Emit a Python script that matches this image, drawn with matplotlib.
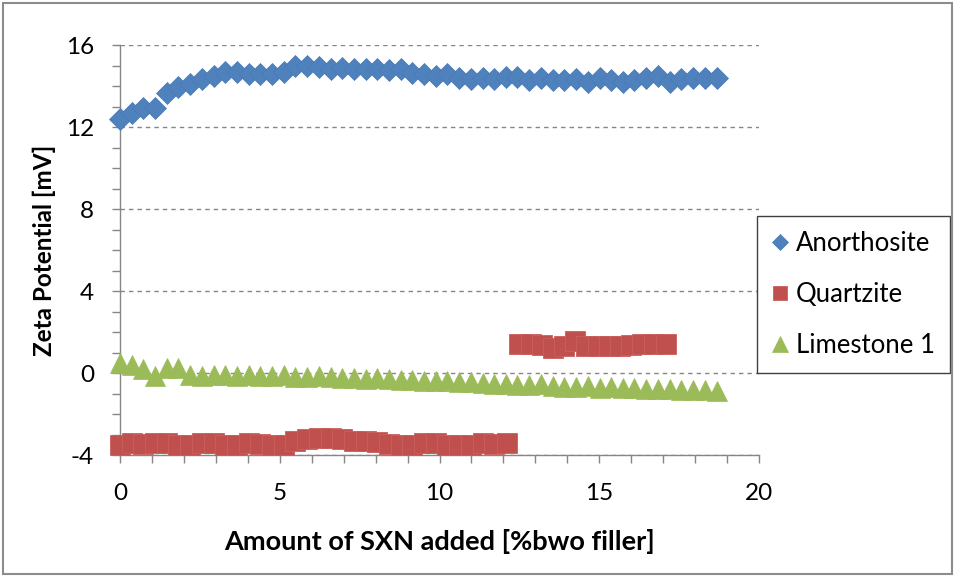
import matplotlib.pyplot as plt
from matplotlib.patches import Rectangle
from matplotlib.ticker import MultipleLocator

# SXN dose steps [%bwo filler]
sxn_added = [0, 0.37, 0.73, 1.1, 1.46, 1.83, 2.2, 2.56, 2.93, 3.29,
             3.66, 4.03, 4.39, 4.76, 5.12, 5.49, 5.86, 6.22, 6.59, 6.95,
             7.32, 7.69, 8.05, 8.42, 8.78, 9.15, 9.52, 9.88, 10.25, 10.61,
             10.98, 11.35, 11.71, 12.08, 12.44, 12.81, 13.18, 13.54, 13.91, 14.27,
             14.64, 15.01, 15.37, 15.74, 16.1, 16.47, 16.84, 17.2, 17.57, 17.93,
             18.3, 18.67]

anorthosite = [12.4, 12.7, 12.95, 12.95, 13.65, 13.95, 14.1, 14.35, 14.5, 14.7,
               14.7, 14.6, 14.6, 14.6, 14.7, 15.0, 15.0, 14.95, 14.85, 14.9,
               14.85, 14.85, 14.85, 14.8, 14.85, 14.65, 14.6, 14.5, 14.6, 14.4,
               14.35, 14.4, 14.35, 14.45, 14.45, 14.3, 14.4, 14.3, 14.3, 14.35,
               14.2, 14.4, 14.3, 14.2, 14.3, 14.4, 14.5, 14.2, 14.35, 14.4,
               14.4, 14.4]

quartzite_x = [0, 0.37, 0.73, 1.1, 1.46, 1.83, 2.2, 2.56, 2.93, 3.29,
               3.66, 4.03, 4.39, 4.76, 5.12, 5.49, 5.86, 6.22, 6.59, 6.95,
               7.32, 7.69, 8.05, 8.42, 8.78, 9.15, 9.52, 9.88, 10.25, 10.61,
               10.98, 11.35, 11.71, 12.1,
               12.5, 12.85, 13.2, 13.55, 13.9, 14.25, 14.6, 14.95, 15.3, 15.65,
               16.0, 16.35, 16.7, 17.1]
quartzite = [-3.5, -3.4, -3.45, -3.4, -3.4, -3.5, -3.5, -3.4, -3.4, -3.5,
             -3.5, -3.4, -3.45, -3.5, -3.5, -3.3, -3.2, -3.15, -3.15, -3.2,
             -3.3, -3.3, -3.35, -3.45, -3.5, -3.5, -3.4, -3.4, -3.5, -3.5,
             -3.5, -3.4, -3.45, -3.4,
             1.4, 1.4, 1.35, 1.2, 1.3, 1.55, 1.3, 1.3, 1.3, 1.3,
             1.35, 1.4, 1.4, 1.4]

limestone = [0.5, 0.4, 0.2, -0.15, 0.25, 0.25, -0.1, -0.15, -0.1, -0.1,
             -0.15, -0.1, -0.15, -0.15, -0.1, -0.2, -0.2, -0.15, -0.2, -0.25,
             -0.25, -0.3, -0.25, -0.3, -0.35, -0.35, -0.4, -0.4, -0.4, -0.45,
             -0.45, -0.5, -0.55, -0.55, -0.6, -0.6, -0.55, -0.65, -0.7, -0.7,
             -0.65, -0.75, -0.7, -0.75, -0.75, -0.8, -0.8, -0.8, -0.85, -0.85,
             -0.85, -0.9]

plt.rcParams['font.family'] = ['Lato', 'DejaVu Sans']
plt.rcParams['axes.unicode_minus'] = False
grey = '#868686'

fig = plt.figure(figsize=(9.56, 5.78), dpi=100)
ax = fig.add_axes([120/956, 123/578, 639/956, 410/578])

ax.plot(sxn_added, anorthosite, 'D', ms=11, color='#4F81BD', mec='#4A7AB5', mew=0.5,
        clip_on=False, label='Anorthosite', zorder=3)
ax.plot(quartzite_x, quartzite, 's', ms=14, color='#C0504D', mec='#C95F5C', mew=0.6,
        clip_on=False, label='Quartzite', zorder=3)
ax.plot(sxn_added, limestone, '^', ms=15, color='#9BBB59', mec='#9BBB59', mew=0.5,
        clip_on=False, label='Limestone 1', zorder=3)

ax.set_xlim(0, 20)
ax.set_ylim(-4, 16)
ax.xaxis.set_major_locator(MultipleLocator(5))
ax.xaxis.set_minor_locator(MultipleLocator(1))
ax.yaxis.set_major_locator(MultipleLocator(4))
ax.yaxis.set_minor_locator(MultipleLocator(1))

ax.yaxis.grid(True, which='major', color=grey, linewidth=1, dashes=(3.2, 2.9))
ax.set_axisbelow(True)
for s in ['top', 'right']:
    ax.spines[s].set_visible(False)
for s in ['left', 'bottom']:
    ax.spines[s].set_color(grey)
    ax.spines[s].set_linewidth(1)

ax.tick_params(which='both', direction='out', length=5.8, width=1, color=grey)
ax.tick_params(axis='y', which='major', pad=13, labelsize=17.5)
ax.tick_params(axis='x', which='major', pad=14, labelsize=17.5)

ax.set_xlabel('Amount of SXN added [%bwo filler]', fontsize=19.5, fontweight='bold', labelpad=18)
ax.set_ylabel('Zeta Potential [mV]', fontsize=17.5, fontweight='bold', labelpad=7)

leg = ax.legend(loc='upper left', bbox_to_anchor=(757/956, 1 - 216/578),
                bbox_transform=fig.transFigure, borderaxespad=0, fontsize=18.5,
                markerscale=0.75, frameon=True, fancybox=False, framealpha=1,
                edgecolor='#404040', handlelength=0.6, handletextpad=0.32,
                labelspacing=1.0, borderpad=0.6)
leg.get_frame().set_linewidth(1)

fig.add_artist(Rectangle((3/956, 4/578), 949/956, 571/578, transform=fig.transFigure,
                         fill=False, edgecolor='#8C8C8C', linewidth=1.5))

fig.savefig('out.png', dpi=100)
